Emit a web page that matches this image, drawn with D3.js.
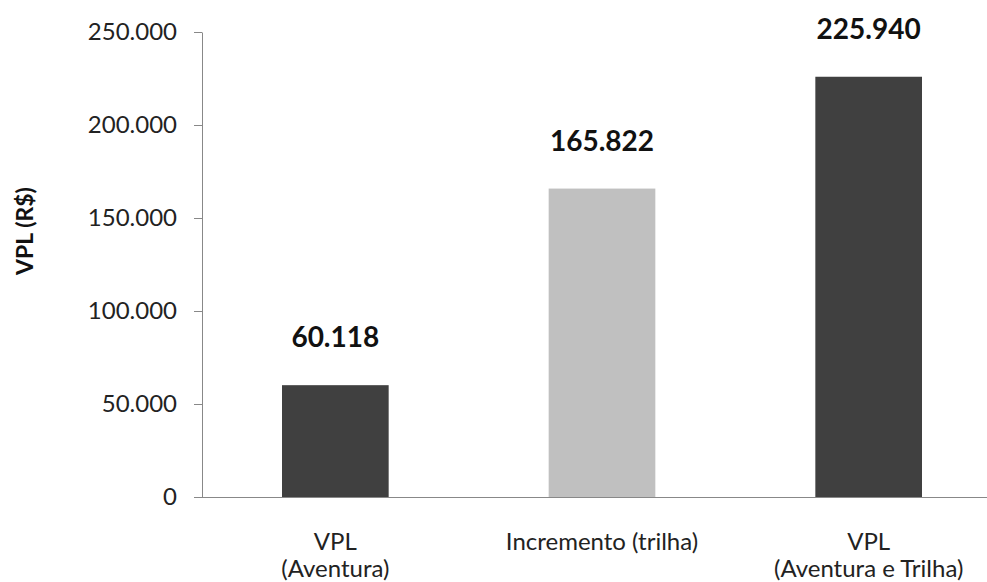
<!DOCTYPE html>
<html><head><meta charset="utf-8">
<script src="https://cdn.jsdelivr.net/npm/d3@7"></script>
<style>body{margin:0;background:#fff}svg{display:block}text{font-family:Lato,"Open Sans",sans-serif}</style>
</head><body>
<svg id="c" width="987" height="582"></svg>
<script>
const categories = [["VPL","(Aventura)"],["Incremento (trilha)"],["VPL","(Aventura e Trilha)"]];
const values = [60118, 165822, 225940];
const barColors = ["#404040","#c0c0c0","#404040"];
const valueLabels = ["60.118","165.822","225.940"];
const yTicks = [0,50000,100000,150000,200000,250000];
const yTitle = "VPL (R$)";

(function(){
const svg = d3.select("#c");
const mLeft = 202, mTop = 32, mBottom = 497;
const x = d3.scaleBand().domain(d3.range(values.length)).range([mLeft, mLeft+800]).paddingInner(0.6).paddingOuter(0.3);
const y = d3.scaleLinear().domain([0,250000]).range([mBottom, mTop]);
const fmt = v => v===0 ? "0" : d3.format(",")(v).replace(/,/g,".");

const ya = svg.append("g").attr("transform",`translate(${mLeft},0)`)
  .call(d3.axisLeft(y).tickValues(yTicks).tickFormat(fmt).tickSizeInner(8).tickSizeOuter(0).tickPadding(17));
ya.select(".domain").attr("stroke","#888");
ya.selectAll(".tick line").attr("stroke","#888");
ya.selectAll(".tick text").attr("font-size",24).attr("fill","#222").attr("font-family","Lato, sans-serif");

svg.append("g").selectAll("rect").data(values).join("rect")
  .attr("x",(d,i)=>x(i)).attr("width",x.bandwidth())
  .attr("y",d=>y(d)).attr("height",d=>mBottom-y(d))
  .attr("fill",(d,i)=>barColors[i]);

svg.append("line").attr("x1",mLeft).attr("x2",987).attr("y1",mBottom+0.5).attr("y2",mBottom+0.5).attr("stroke","#888");

svg.append("g").selectAll("text").data(values).join("text")
  .attr("x",(d,i)=>x(i)+x.bandwidth()/2).attr("y",d=>y(d)-38)
  .attr("text-anchor","middle").attr("font-size",28).attr("font-weight","bold").attr("fill","#111")
  .text((d,i)=>valueLabels[i]);

const xl = svg.append("g").selectAll("text").data(categories).join("text")
  .attr("text-anchor","middle").attr("font-size",24).attr("fill","#222");
xl.each(function(lines,i){
  const t = d3.select(this);
  lines.forEach((s,j)=>t.append("tspan").attr("x",x(i)+x.bandwidth()/2).attr("y",550+j*27).text(s));
});

svg.append("text").attr("transform",`translate(33,231) rotate(-90)`)
  .attr("text-anchor","middle").attr("font-size",23).attr("font-weight","bold").attr("fill","#111").text(yTitle);
})();
</script>
</body></html>
